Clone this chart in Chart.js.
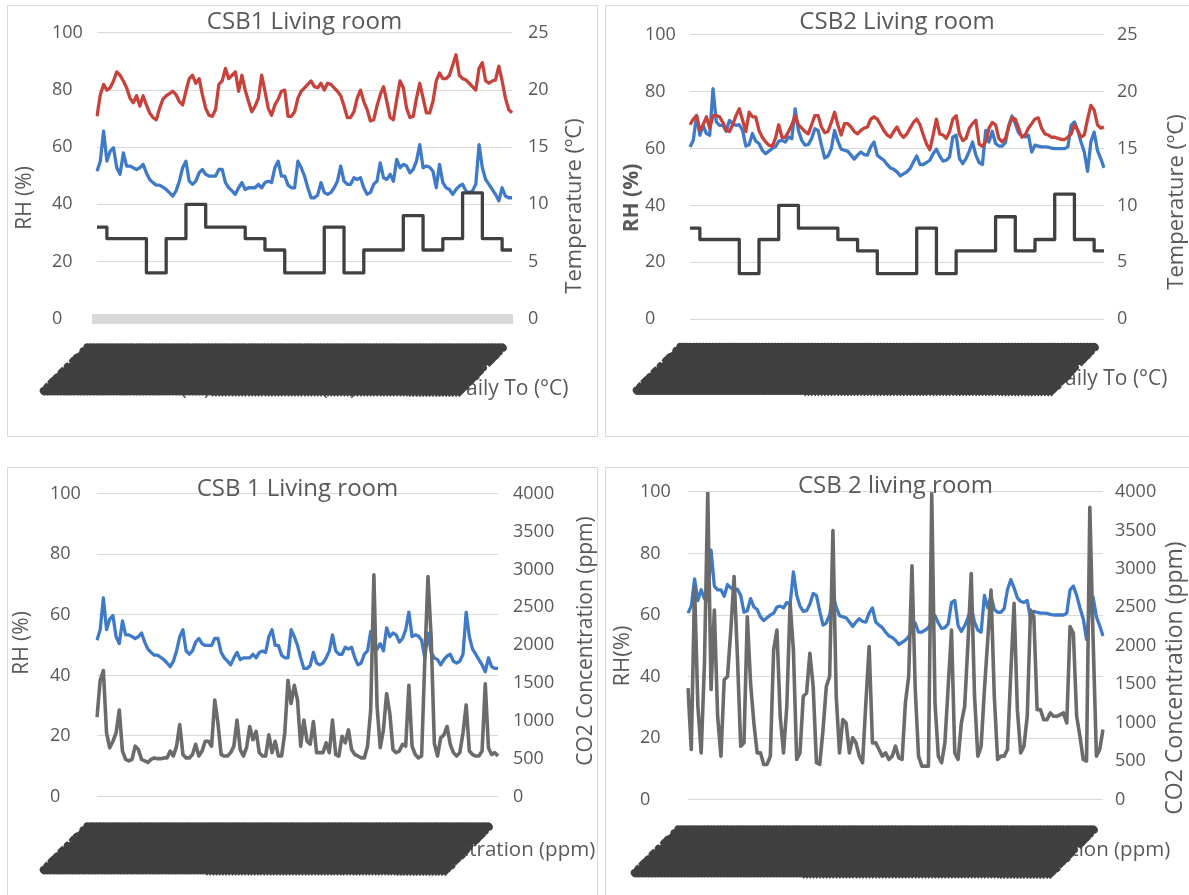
<!DOCTYPE html>
<html>
<head>
<meta charset="utf-8">
<script src="https://cdn.jsdelivr.net/npm/chart.js@4.4.1/dist/chart.umd.min.js"></script>
<style>
  html, body { margin: 0; padding: 0; background: #ffffff; width: 1189px; height: 895px; overflow: hidden; }
  .frame { position: absolute; border: 1px solid #D9D9D9; box-sizing: border-box; }
  canvas { position: absolute; }
</style>
</head>
<body>
<div class="frame" style="left:7px;top:5px;width:591px;height:432px"></div>
<div class="frame" style="left:605px;top:5px;width:600px;height:432px"></div>
<div class="frame" style="left:7px;top:467px;width:591px;height:440px"></div>
<div class="frame" style="left:605px;top:467px;width:600px;height:440px"></div>
<canvas id="c1" width="590" height="432" style="left:8px;top:5px;width:590px;height:432px"></canvas>
<canvas id="c2" width="584" height="432" style="left:605px;top:5px;width:584px;height:432px"></canvas>
<canvas id="c3" width="590" height="427" style="left:8px;top:468px;width:590px;height:427px"></canvas>
<canvas id="c4" width="584" height="427" style="left:605px;top:468px;width:584px;height:427px"></canvas>
<script>
// ---------- data (4-hourly readings) ----------
const timeLabels = [];
(function () {
  const start = Date.UTC(2016, 11, 1, 12, 0);
  const p = n => String(n).padStart(2, '0');
  for (let i = 0; i < 127; i++) {
    const d = new Date(start + i * 4 * 3600 * 1000);
    timeLabels.push(p(d.getUTCDate()) + '/' + p(d.getUTCMonth() + 1) + '/' + String(d.getUTCFullYear()).slice(2) + ' ' + p(d.getUTCHours()) + ':00');
  }
})();

const rh1 = [51.6,55.1,65.6,55.1,58.6,59.8,52.8,50.5,58.0,53.4,
  53.4,52.8,52.2,52.8,54.0,51.0,48.7,47.6,46.7,46.7,
  46.0,45.2,44.1,42.9,44.7,48.1,52.8,55.1,48.1,47.0,
  48.1,51.0,52.2,50.5,49.9,49.9,49.9,52.2,52.2,47.6,
  45.8,44.7,43.5,45.8,47.6,45.2,45.8,45.8,45.8,47.0,
  45.8,47.6,48.1,47.6,52.8,55.1,49.9,49.9,46.7,45.8,
  45.8,55.1,52.8,49.9,45.8,42.3,42.3,43.3,47.6,44.1,
  43.5,44.1,45.8,48.1,53.4,48.1,47.0,47.0,49.3,48.7,
  49.3,45.8,43.5,44.1,47.0,48.1,54.5,49.3,48.7,50.5,
  48.1,55.7,52.8,54.0,53.4,51.0,52.2,55.1,60.9,52.8,
  53.4,53.0,51.6,45.8,54.0,47.6,45.8,45.2,43.5,45.2,
  46.4,47.0,44.7,44.1,44.7,47.0,60.9,52.8,48.7,47.0,
  45.2,43.5,41.2,45.8,42.9,42.3,42.3];

const t1 = [17.7,19.6,20.5,20.0,20.2,20.8,21.6,21.3,20.8,20.2,
  19.3,18.9,19.5,18.6,19.5,18.7,18.0,17.6,17.4,18.4,
  19.2,19.5,19.7,19.9,19.6,19.0,18.7,19.9,21.0,21.3,
  20.6,21.0,19.6,18.4,17.8,17.7,18.3,20.5,20.8,21.9,
  21.0,21.3,21.6,19.9,21.3,20.0,19.0,18.1,18.6,19.3,
  21.3,19.9,18.4,17.8,18.7,19.2,19.9,20.0,17.7,17.7,
  18.1,19.3,19.9,20.2,20.5,20.8,20.3,20.2,20.6,20.0,
  20.6,20.5,20.2,19.9,19.5,18.6,17.6,17.6,18.1,19.3,
  20.0,19.0,18.3,17.3,17.4,18.6,19.6,20.3,19.0,17.6,
  17.4,19.2,20.8,20.2,18.4,17.6,17.7,19.3,20.6,19.3,
  18.0,18.0,19.0,20.8,21.5,21.0,21.0,21.3,22.2,23.1,
  21.3,21.0,20.9,20.6,20.3,20.0,21.9,22.4,20.8,20.6,
  20.8,20.9,22.1,20.8,19.3,18.3,18.0];

const dailyTo = [8,8,8,
  7,7,7,7,7,7, 7,7,7,7,7,7, 4,4,4,4,4,4, 7,7,7,7,7,7,
  10,10,10,10,10,10, 8,8,8,8,8,8, 8,8,8,8,8,8, 7,7,7,7,7,7,
  6,6,6,6,6,6, 4,4,4,4,4,4, 4,4,4,4,4,4, 8,8,8,8,8,8,
  4,4,4,4,4,4, 6,6,6,6,6,6, 6,6,6,6,6,6, 9,9,9,9,9,9,
  6,6,6,6,6,6, 7,7,7,7,7,7, 11,11,11,11,11,11, 7,7,7,7,7,7,
  6,6,6,6];

const rh2 = [60.6,62.9,71.7,64.7,68.2,65.3,64.7,81.1,69.4,68.2,
  68.2,66.1,69.9,68.8,68.2,68.4,66.4,60.9,61.4,65.3,
  62.6,61.8,59.4,58.2,59.1,60.0,60.6,62.6,62.9,62.3,
  64.1,63.5,74.0,66.4,62.9,61.2,61.4,63.5,67.0,66.4,
  61.2,56.7,57.4,60.0,66.4,62.6,59.8,59.4,59.1,57.7,
  56.3,57.7,58.8,57.9,57.7,60.6,62.3,57.7,56.7,55.9,
  54.4,53.2,52.7,51.8,50.4,51.1,51.8,53.0,55.3,57.4,
  54.4,54.4,55.1,55.9,58.2,59.8,57.4,55.6,55.9,57.1,
  64.1,64.7,56.5,54.7,56.5,59.1,62.3,57.7,55.1,54.4,
  66.4,62.3,66.1,61.8,60.9,60.9,62.1,68.2,71.5,68.8,
  65.6,64.4,64.1,64.7,58.8,61.2,60.9,60.6,60.6,60.5,
  60.2,60.0,60.0,60.0,60.0,60.6,68.2,69.4,66.4,62.3,
  58.8,52.0,62.3,65.8,59.4,56.5,53.2];

const t2 = [17.1,17.6,17.9,16.6,17.1,17.8,16.8,17.9,17.9,17.8,
  17.3,16.6,16.5,17.1,17.9,18.5,17.5,16.5,18.2,17.8,
  17.8,16.6,16.0,15.6,15.3,15.2,15.9,17.1,16.0,16.0,
  16.5,17.1,17.9,17.1,16.8,16.5,16.3,17.1,17.9,17.9,
  16.9,16.4,16.5,17.3,18.2,17.1,16.2,17.2,17.2,16.9,
  16.5,16.3,16.6,16.8,16.9,17.6,17.8,17.6,17.1,16.6,
  16.2,16.0,16.5,16.9,16.3,16.0,16.3,16.8,17.3,17.6,
  17.1,16.2,15.4,14.9,16.2,17.6,16.3,16.2,15.9,16.5,
  17.6,17.9,16.3,15.7,15.9,16.8,17.2,17.5,15.4,15.2,
  15.6,16.8,17.3,17.1,15.9,15.6,15.9,16.9,17.7,17.6,
  16.8,16.0,16.2,16.8,17.2,17.6,17.7,16.8,16.3,16.2,
  16.0,16.0,15.9,15.8,15.8,16.0,16.3,17.1,16.6,16.0,
  16.2,17.6,18.8,18.4,17.1,16.8,16.9];

const co2a = [1050,1535,1665,840,643,730,840,1143,600,490,
  470,490,665,620,490,470,450,490,510,500,
  500,510,510,600,535,665,950,555,510,510,
  555,690,535,600,730,730,665,1275,970,555,
  535,535,580,665,1010,620,535,645,925,750,
  860,580,535,535,815,580,730,535,535,840,
  1535,1230,1470,1275,665,1010,730,690,990,580,
  580,580,710,580,1010,555,535,795,710,880,
  620,555,535,510,510,665,1145,2930,1190,645,
  880,1360,1100,620,580,600,690,665,1470,665,
  555,510,535,1800,2905,2100,700,535,775,815,
  925,690,580,535,580,840,1210,600,555,535,
  535,600,1490,645,555,580,535];

const co2b = [1450,650,2770,1210,607,1775,3990,1430,2465,1080,
  564,1558,1600,2205,2900,1860,694,737,2378,1514,
  996,607,607,456,456,564,1946,2205,1082,607,
  1212,2551,1946,521,607,1342,1385,1903,1471,478,
  456,910,1471,1600,3500,1342,607,1039,996,607,
  802,737,564,478,1255,1990,737,737,650,564,
  607,521,564,694,542,521,1255,1600,3040,1428,
  564,434,434,434,3980,1255,564,478,737,1471,
  2205,607,521,996,1212,2033,2940,1342,564,694,
  1428,2076,2724,1342,521,564,564,650,1644,2551,
  1169,607,694,1082,2465,2378,1169,1169,1039,1039,
  1126,1082,1082,1104,1126,996,2249,2162,1082,823,
  521,500,3800,2076,564,650,910];

// ---------- styling ----------
const FONT = "'Open Sans', sans-serif";
const TXT = '#595959';
const GRID = '#D9D9D9';
const BLUE = '#3F7AC9';
const RED = '#C8423C';
const DARK = '#404040';
const GREY = '#6B6B6B';

// draws the vertical axis titles (both read bottom-to-top, as in the original)
const axisTitlePlugin = {
  id: 'axisTitles',
  afterDraw(chart, args, o) {
    if (!o || !o.items) return;
    const ctx = chart.ctx;
    o.items.forEach(it => {
      ctx.save();
      ctx.font = (it.weight || 'normal') + ' ' + it.size + 'px ' + FONT;
      ctx.fillStyle = TXT;
      ctx.textAlign = 'center';
      ctx.textBaseline = 'middle';
      ctx.translate(it.x, it.y);
      ctx.rotate(-Math.PI / 2);
      ctx.fillText(it.text, 0, 0);
      ctx.restore();
    });
  }
};

function line(label, data, color, axis, order, extra) {
  return Object.assign({
    label: label, data: data, yAxisID: axis, order: order,
    borderColor: color, backgroundColor: color, borderWidth: 3.3,
    pointRadius: 0, tension: 0, borderJoinStyle: 'round', fill: false
  }, extra || {});
}

const plainNum = v => String(v);

function build(id, p) {
  return new Chart(document.getElementById(id), {
    type: 'line',
    data: { labels: timeLabels, datasets: p.datasets },
    options: {
      responsive: false, animation: false, devicePixelRatio: 1,
      events: [],
      layout: { autoPadding: false, padding: { left: p.PL, right: p.PR, top: 0, bottom: p.PB } },
      plugins: {
        tooltip: { enabled: false },
        title: {
          display: true, text: p.title, fullSize: false, color: TXT,
          font: { family: FONT, size: 24, weight: 'normal' },
          padding: { top: p.tT, bottom: p.tB }
        },
        legend: {
          display: true, position: 'bottom', align: 'start',
          title: { display: true, text: '', font: { size: 10 }, padding: { top: p.TH - 12, bottom: 0 } },
          labels: {
            usePointStyle: true, pointStyle: 'line', pointStyleWidth: 28,
            padding: p.LP, color: TXT, font: { family: FONT, size: p.LF },
            sort: (a, b) => a.datasetIndex - b.datasetIndex
          }
        },
        axisTitles: { items: p.titles }
      },
      scales: {
        x: {
          type: 'category',
          grid: { display: false, drawTicks: false },
          border: p.band ? { display: true, color: GRID, width: 10, z: -1 } : { display: false },
          ticks: {
            autoSkip: false, maxRotation: 45, minRotation: 45, mirror: true, padding: p.XP,
            color: DARK, z: 1, textStrokeColor: DARK, textStrokeWidth: 3,
            font: { family: "'DejaVu Sans', sans-serif", size: 8, weight: 'bold' }
          },
          afterFit: s => { s.height = 0; }
        },
        y: {
          position: 'left', min: 0, max: 100,
          ticks: { stepSize: 20, color: TXT, crossAlign: 'far', font: { family: FONT, size: 18 }, callback: plainNum },
          grid: { color: GRID, lineWidth: 1, drawTicks: false },
          border: { display: false },
          afterFit: s => { s.width = p.yW; }
        },
        y1: {
          position: 'right', min: 0, max: p.y1Max,
          ticks: { stepSize: p.y1Step, color: TXT, padding: p.y1P, font: { family: FONT, size: 18 }, callback: plainNum },
          grid: { display: false, drawTicks: false },
          border: { display: false },
          afterFit: s => { s.width = p.y1W; }
        }
      }
    },
    plugins: [axisTitlePlugin]
  });
}

build('c1', {
  title: 'CSB1 Living room', tT: 2.6, tB: -3.4,
  PL: 44, PR: -60, PB: 27.5, yW: 45, y1W: 146, y1P: 16,
  y1Max: 25, y1Step: 5, LP: 56, LF: 21, TH: 4, XP: -31, band: true,
  titles: [
    { text: 'RH (%)', x: 17, y: 193, size: 21 },
    { text: 'Temperature (ºC)', x: 567, y: 201, size: 22 }
  ],
  datasets: [
    line('RH (%)', rh1, BLUE, 'y', 2),
    line('T (°C)', t1, RED, 'y1', 1),
    line('Daily To (°C)', dailyTo, DARK, 'y1', 0, { stepped: true })
  ]
});

build('c2', {
  title: 'CSB2 Living room', tT: 2.6, tB: -1.4,
  PL: 40, PR: -60, PB: 37.5, yW: 45, y1W: 145, y1P: 13,
  y1Max: 25, y1Step: 5, LP: 58, LF: 21, TH: -8.5, XP: -30, band: false,
  titles: [
    { text: 'RH (%)', x: 27, y: 193, size: 21, weight: 'bold' },
    { text: 'Temperature (ºC)', x: 572, y: 197, size: 22 }
  ],
  datasets: [
    line('RH (%)', rh2, BLUE, 'y', 2),
    line('T (°C)', t2, RED, 'y1', 1),
    line('Daily To (°C)', dailyTo, DARK, 'y1', 0, { stepped: true })
  ]
});

build('c3', {
  title: 'CSB 1 Living room', tT: 3.6, tB: -9.4,
  PL: 42, PR: -100, PB: 25, yW: 47, y1W: 200, y1P: 15,
  y1Max: 4000, y1Step: 500, LP: 81.5, LF: 20.5, TH: -38.5, XP: -32, band: false,
  titles: [
    { text: 'RH (%)', x: 14, y: 175, size: 21 },
    { text: 'CO2 Concentration (ppm)', x: 578, y: 173, size: 21 }
  ],
  datasets: [
    line('RH (%)', rh1, BLUE, 'y', 1),
    line('CO2 Concentration (ppm)', co2a, GREY, 'y1', 0, { borderWidth: 3.6 })
  ]
});

build('c4', {
  title: 'CSB 2 living room', tT: 3.6, tB: -8.4,
  PL: 35, PR: -80, PB: 25, yW: 48, y1W: 166, y1P: 12,
  y1Max: 4000, y1Step: 500, LP: 74, LF: 20.5, TH: -34, XP: -32, band: false,
  titles: [
    { text: 'RH(%)', x: 18, y: 188, size: 22 },
    { text: 'CO2 Concentration (ppm)', x: 570, y: 210, size: 23 }
  ],
  datasets: [
    line('RH (%)', rh2, BLUE, 'y', 1),
    line('CO2 Concentration (ppm)', co2b, GREY, 'y1', 0, { borderWidth: 3.6 })
  ]
});
</script>
</body>
</html>
